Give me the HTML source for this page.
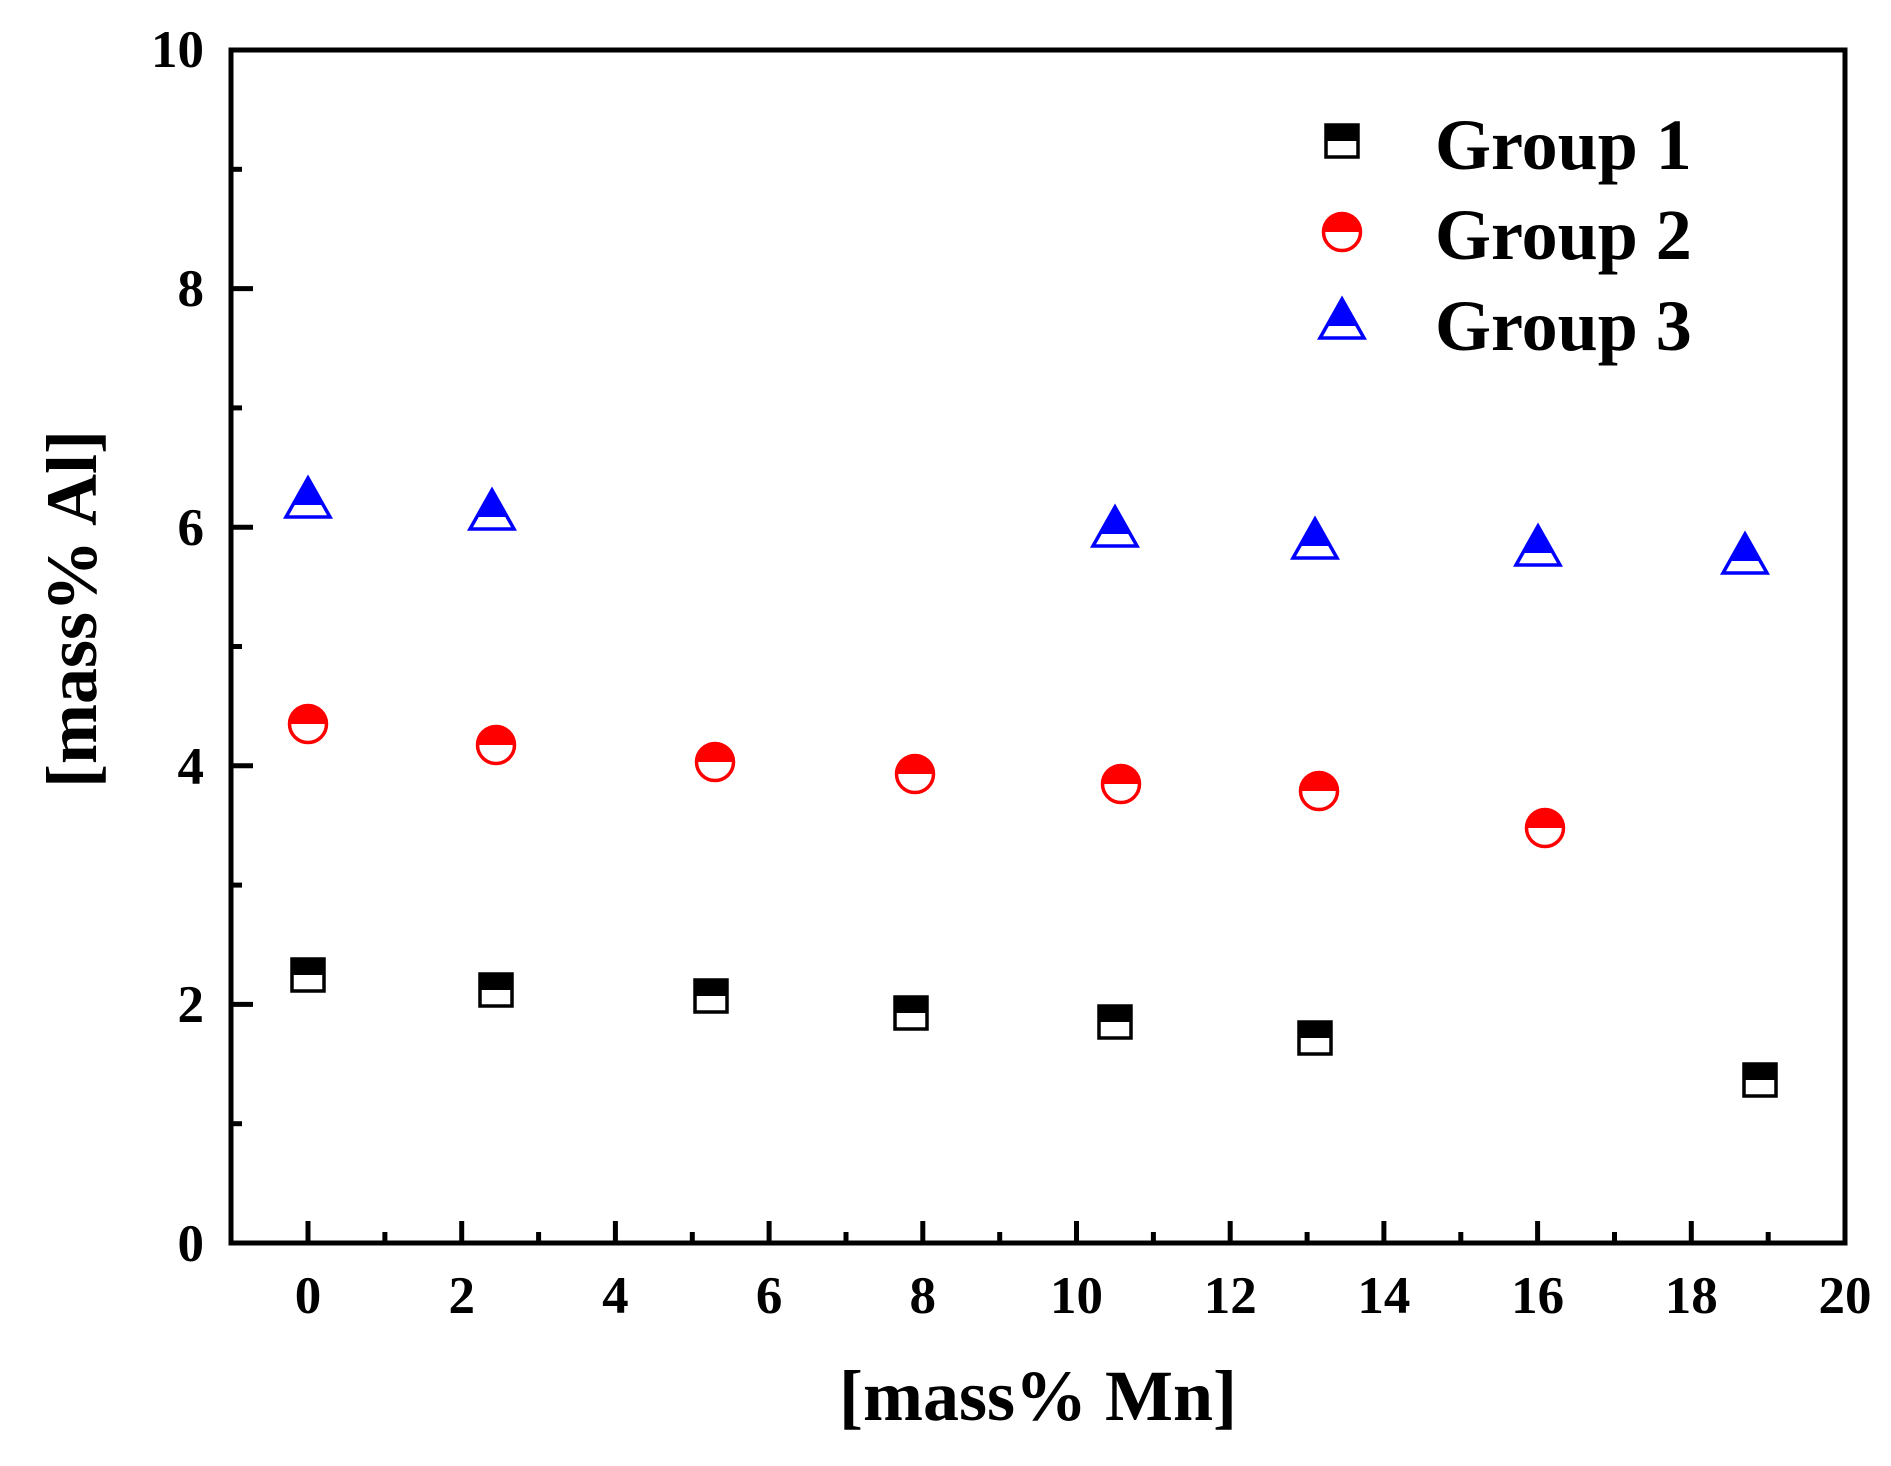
<!DOCTYPE html>
<html><head><meta charset="utf-8"><style>
html,body{margin:0;padding:0;background:#fff;}
svg{display:block;}
text{font-family:"Liberation Serif",serif;font-weight:bold;fill:#000;}
</style></head><body>
<svg width="1891" height="1466" viewBox="0 0 1891 1466" xmlns="http://www.w3.org/2000/svg">
<defs>
  <g id="sq">
    <rect x="-16" y="-16" width="32" height="32" fill="#fff" stroke="#000" stroke-width="3.5"/>
    <rect x="-16" y="-16" width="32" height="16" fill="#000"/>
  </g>
  <g id="ci">
    <circle r="18.5" fill="#fff" stroke="#f00" stroke-width="3.5"/>
    <path d="M-18.5,0 A18.5,18.5 0 0 1 18.5,0 Z" fill="#f00"/>
  </g>
  <g id="tr">
    <polygon points="0,-23 22,16 -22,16" fill="#fff" stroke="#00f" stroke-width="3.5" stroke-linejoin="miter"/>
    <polygon points="0,-23 15.2,4 -15.2,4" fill="#00f"/>
  </g>
</defs>

<!-- axes frame -->
<rect x="231" y="50" width="1614" height="1193" fill="none" stroke="#000" stroke-width="5"/>

<!-- x ticks -->
<g stroke="#000" stroke-width="5">
  <line x1="308" y1="1243" x2="308" y2="1221"/>
  <line x1="461.7" y1="1243" x2="461.7" y2="1221"/>
  <line x1="615.4" y1="1243" x2="615.4" y2="1221"/>
  <line x1="769.1" y1="1243" x2="769.1" y2="1221"/>
  <line x1="922.8" y1="1243" x2="922.8" y2="1221"/>
  <line x1="1076.5" y1="1243" x2="1076.5" y2="1221"/>
  <line x1="1230.2" y1="1243" x2="1230.2" y2="1221"/>
  <line x1="1383.9" y1="1243" x2="1383.9" y2="1221"/>
  <line x1="1537.6" y1="1243" x2="1537.6" y2="1221"/>
  <line x1="1691.3" y1="1243" x2="1691.3" y2="1221"/>
  <line x1="384.9" y1="1243" x2="384.9" y2="1232"/>
  <line x1="538.6" y1="1243" x2="538.6" y2="1232"/>
  <line x1="692.3" y1="1243" x2="692.3" y2="1232"/>
  <line x1="846" y1="1243" x2="846" y2="1232"/>
  <line x1="999.7" y1="1243" x2="999.7" y2="1232"/>
  <line x1="1153.4" y1="1243" x2="1153.4" y2="1232"/>
  <line x1="1307.1" y1="1243" x2="1307.1" y2="1232"/>
  <line x1="1460.8" y1="1243" x2="1460.8" y2="1232"/>
  <line x1="1614.5" y1="1243" x2="1614.5" y2="1232"/>
  <line x1="1768.2" y1="1243" x2="1768.2" y2="1232"/>
</g>
<!-- y ticks -->
<g stroke="#000" stroke-width="5">
  <line x1="231" y1="1004.4" x2="253" y2="1004.4"/>
  <line x1="231" y1="765.8" x2="253" y2="765.8"/>
  <line x1="231" y1="527.2" x2="253" y2="527.2"/>
  <line x1="231" y1="288.6" x2="253" y2="288.6"/>
  <line x1="231" y1="1123.7" x2="242" y2="1123.7"/>
  <line x1="231" y1="885.1" x2="242" y2="885.1"/>
  <line x1="231" y1="646.5" x2="242" y2="646.5"/>
  <line x1="231" y1="407.9" x2="242" y2="407.9"/>
  <line x1="231" y1="169.3" x2="242" y2="169.3"/>
</g>

<!-- x tick labels -->
<g font-size="53" text-anchor="middle">
  <text x="308" y="1313">0</text>
  <text x="461.7" y="1313">2</text>
  <text x="615.4" y="1313">4</text>
  <text x="769.1" y="1313">6</text>
  <text x="922.8" y="1313">8</text>
  <text x="1076.5" y="1313">10</text>
  <text x="1230.2" y="1313">12</text>
  <text x="1383.9" y="1313">14</text>
  <text x="1537.6" y="1313">16</text>
  <text x="1691.3" y="1313">18</text>
  <text x="1845" y="1313">20</text>
</g>
<!-- y tick labels -->
<g font-size="53" text-anchor="end">
  <text x="204" y="1261">0</text>
  <text x="204" y="1022">2</text>
  <text x="204" y="784">4</text>
  <text x="204" y="545">6</text>
  <text x="204" y="306">8</text>
  <text x="204" y="67">10</text>
</g>

<!-- axis titles -->
<text x="1038" y="1420" font-size="72" text-anchor="middle">[mass% Mn]</text>
<text transform="translate(96,609) rotate(-90)" font-size="72" text-anchor="middle">[mass% Al]</text>

<!-- legend -->
<use href="#sq" x="1342" y="141"/>
<use href="#ci" x="1342" y="232"/>
<use href="#tr" x="1342" y="322"/>
<g font-size="72">
  <text x="1435" y="169">Group 1</text>
  <text x="1435" y="259">Group 2</text>
  <text x="1435" y="350">Group 3</text>
</g>

<!-- Group 1 -->
<use href="#sq" x="308" y="975"/>
<use href="#sq" x="496" y="990"/>
<use href="#sq" x="711" y="996"/>
<use href="#sq" x="911" y="1013"/>
<use href="#sq" x="1115" y="1022"/>
<use href="#sq" x="1315" y="1038"/>
<use href="#sq" x="1760" y="1080"/>
<!-- Group 2 -->
<use href="#ci" x="308" y="724"/>
<use href="#ci" x="496" y="745"/>
<use href="#ci" x="715" y="762"/>
<use href="#ci" x="915" y="774"/>
<use href="#ci" x="1121" y="784"/>
<use href="#ci" x="1319" y="791"/>
<use href="#ci" x="1545" y="828"/>
<!-- Group 3 -->
<use href="#tr" x="308" y="501"/>
<use href="#tr" x="492" y="513"/>
<use href="#tr" x="1115" y="530"/>
<use href="#tr" x="1315" y="542"/>
<use href="#tr" x="1538" y="549"/>
<use href="#tr" x="1745" y="557"/>
</svg>
</body></html>
